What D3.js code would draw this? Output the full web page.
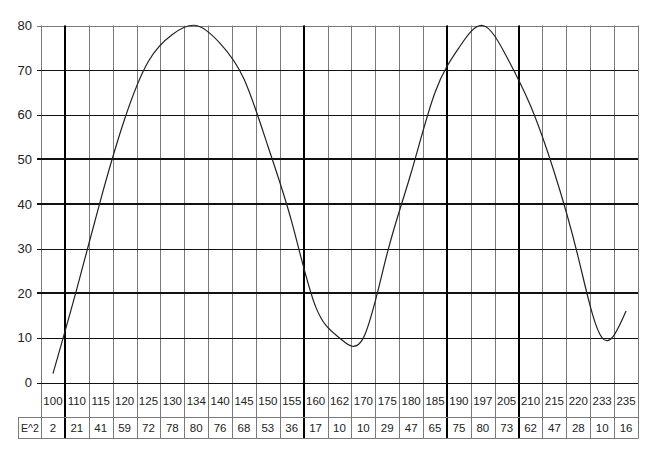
<!DOCTYPE html>
<html><head><meta charset="utf-8">
<script src="https://cdn.jsdelivr.net/npm/d3@7"></script>
<style>body{margin:0;background:#fff}svg{display:block;font-family:"Liberation Sans",Arial,sans-serif}</style>
</head><body><svg id="c" width="653" height="454"></svg>
<script>
const categories = ["100","110","115","120","125","130","134","140","145","150","155","160","162","170","175","180","185","190","197","205","210","215","220","233","235"];
const values = [2,21,41,59,72,78,80,76,68,53,36,17,10,10,29,47,65,75,80,73,62,47,28,10,16];
const yTicks = [0,10,20,30,40,50,60,70,80];
const thickY = [20,40,50];
const thickXStarts = ["110","160","190","210"];
const rowLabel = "E^2";

const svg = d3.select("#c");
const x = d3.scaleBand().domain(categories).range([41,638]).padding(0);
const y = d3.scaleLinear().domain([0,80]).range([382.5,25.5]);
const tableTop = y(0), row1Bottom = 417.5, row2Bottom = 438.5;

// vertical grid lines (thin)
svg.append("g").selectAll("line").data(categories).join("line")
  .attr("x1", d=>Math.round(x(d))+0.5).attr("x2", d=>Math.round(x(d))+0.5)
  .attr("y1", y(80)).attr("y2", row2Bottom)
  .attr("stroke","#7a7a7a").attr("stroke-width",1);
svg.append("line").attr("x1",Math.round(x.range()[1])+0.5).attr("x2",Math.round(x.range()[1])+0.5)
  .attr("y1",y(80)).attr("y2",row2Bottom).attr("stroke","#7a7a7a");

// horizontal grid lines
svg.append("g").selectAll("line").data(yTicks).join("line")
  .attr("x1", 37).attr("x2", 638)
  .attr("y1", d=>thickY.includes(d)?Math.round(y(d)):Math.round(y(d))+0.5)
  .attr("y2", d=>thickY.includes(d)?Math.round(y(d)):Math.round(y(d))+0.5)
  .attr("stroke", d=>d===80?"#7a7a7a":"#111")
  .attr("stroke-width", d=>thickY.includes(d)?2:1);

// thick vertical lines
svg.append("g").selectAll("line").data(thickXStarts).join("line")
  .attr("x1", d=>Math.round(x(d))).attr("x2", d=>Math.round(x(d)))
  .attr("y1", y(80)).attr("y2", row2Bottom)
  .attr("stroke","#000").attr("stroke-width",2);

// y tick labels
svg.append("g").selectAll("text").data(yTicks).join("text")
  .attr("x", 32).attr("y", d=>y(d)).attr("dy","0.35em")
  .attr("text-anchor","end").attr("font-size",13).attr("fill","#222")
  .text(d=>d);

// table rows
svg.append("line").attr("x1",18).attr("x2",638).attr("y1",row1Bottom).attr("y2",row1Bottom).attr("stroke","#7a7a7a");
svg.append("line").attr("x1",18).attr("x2",638).attr("y1",row2Bottom).attr("y2",row2Bottom).attr("stroke","#7a7a7a");
svg.append("line").attr("x1",18.5).attr("x2",18.5).attr("y1",row1Bottom).attr("y2",row2Bottom).attr("stroke","#7a7a7a");

svg.append("g").selectAll("text").data(categories).join("text")
  .attr("x", d=>x(d)+x.bandwidth()/2).attr("y", (tableTop+row1Bottom)/2+1).attr("dy","0.35em")
  .attr("text-anchor","middle").attr("font-size",11.5).attr("fill","#222").text(d=>d);
svg.append("g").selectAll("text").data(values).join("text")
  .attr("x", (d,i)=>x(categories[i])+x.bandwidth()/2).attr("y", (row1Bottom+row2Bottom)/2).attr("dy","0.35em")
  .attr("text-anchor","middle").attr("font-size",11.5).attr("fill","#222").text(d=>d);
svg.append("text").attr("x",30).attr("y",(row1Bottom+row2Bottom)/2).attr("dy","0.35em")
  .attr("text-anchor","middle").attr("font-size",10.5).attr("fill","#222").text(rowLabel);

// curve
const line = d3.line().x((d,i)=>x(categories[i])+x.bandwidth()/2).y(d=>y(d)).curve(d3.curveNatural);
svg.append("path").datum(values).attr("d",line).attr("fill","none").attr("stroke","#222").attr("stroke-width",1.2);
</script></body></html>
